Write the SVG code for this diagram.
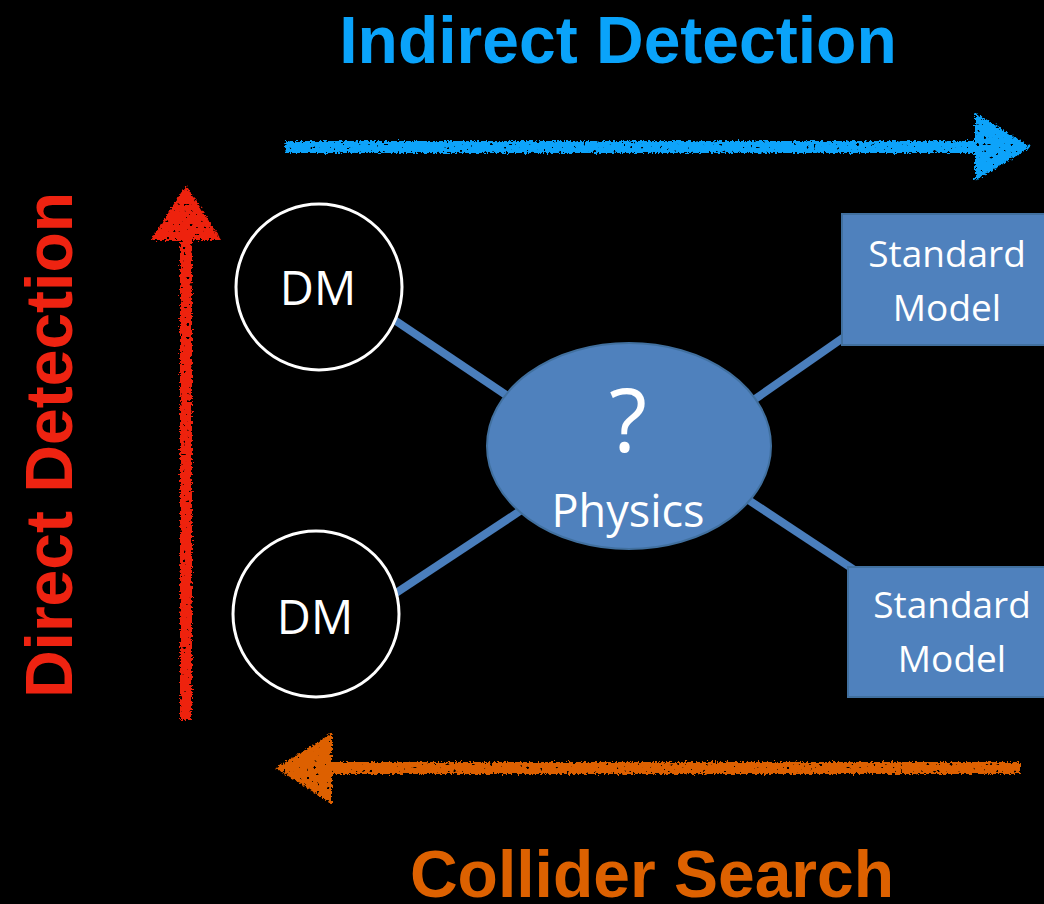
<svg xmlns="http://www.w3.org/2000/svg" width="1044" height="904" viewBox="0 0 1044 904">
  <defs>
    <!-- rough chalk look for the hand-drawn arrows -->
    <filter id="chalk" filterUnits="userSpaceOnUse" x="0" y="0" width="1044" height="904">
      <feTurbulence type="fractalNoise" baseFrequency="0.45" numOctaves="2" seed="7" result="noise"/>
      <feDisplacementMap in="SourceGraphic" in2="noise" scale="6" xChannelSelector="R" yChannelSelector="G" result="rough"/>
      <feTurbulence type="fractalNoise" baseFrequency="0.3" numOctaves="1" seed="11" result="speck"/>
      <feColorMatrix in="speck" type="matrix" values="0 0 0 0 0  0 0 0 0 0  0 0 0 0 0  24 0 0 0 -16.6" result="holes"/>
      <feComposite in="rough" in2="holes" operator="out"/>
    </filter>
    <style>
      .title { font-family: "Liberation Sans", Arial, sans-serif; font-weight: bold; font-size: 66px; text-anchor: middle; }
      .label { font-family: "Open Sans", "Noto Sans", sans-serif; fill: #ffffff; text-anchor: middle; }
      .dm { fill: #000000; stroke: #ffffff; stroke-width: 3; }
      .blue { fill: #4f81bd; stroke: #41709f; stroke-width: 2; }
      .link { stroke: #4a7ebc; stroke-width: 8; fill: none; }
    </style>
  </defs>

  <rect x="0" y="0" width="1044" height="904" fill="#000000"/>

  <!-- headings -->
  <text class="title" x="618" y="63" fill="#0aa3fa">Indirect Detection</text>
  <text class="title" x="652" y="897" fill="#dd6100">Collider Search</text>
  <text class="title" transform="translate(72,445) rotate(-90)" x="0" y="0" fill="#ee2311">Direct Detection</text>

  <!-- chalk arrows -->
  <g id="arrows" filter="url(#chalk)">
    <g id="arrow-indirect" fill="#0aa3fa">
      <rect x="285" y="141" width="695" height="12"/>
      <polygon points="975,113 1031,147 975,181"/>
    </g>
    <g id="arrow-direct" fill="#ee2311">
      <rect x="180" y="235" width="12" height="485"/>
      <polygon points="151,240 186,185 221,240"/>
    </g>
    <g id="arrow-collider" fill="#dd6100">
      <rect x="326" y="762" width="694" height="12"/>
      <polygon points="332,733 276,768 332,804"/>
    </g>
  </g>

  <!-- connectors -->
  <g id="connectors">
    <line class="link" x1="390" y1="317" x2="515" y2="401"/>
    <line class="link" x1="396" y1="593" x2="520" y2="511"/>
    <line class="link" x1="745" y1="406" x2="850" y2="333"/>
    <line class="link" x1="747" y1="499" x2="862" y2="575"/>
  </g>

  <!-- nodes -->
  <g id="dm-top">
    <circle class="dm" cx="319" cy="287" r="83"/>
    <text class="label" x="318" y="305" font-size="47">DM</text>
  </g>
  <g id="dm-bottom">
    <circle class="dm" cx="316" cy="614" r="83"/>
    <text class="label" x="315" y="634" font-size="47">DM</text>
  </g>
  <g id="physics">
    <ellipse class="blue" cx="629" cy="446" rx="142" ry="103"/>
    <text class="label" x="628" y="452" font-size="88">?</text>
    <text class="label" x="628" y="527" font-size="45">Physics</text>
  </g>
  <g id="sm-top">
    <rect class="blue" x="842" y="214" width="220" height="131"/>
    <text class="label" x="947" y="267" font-size="37">Standard</text>
    <text class="label" x="947" y="321" font-size="37">Model</text>
  </g>
  <g id="sm-bottom">
    <rect class="blue" x="848" y="567" width="220" height="130"/>
    <text class="label" x="952" y="618" font-size="37">Standard</text>
    <text class="label" x="952" y="672" font-size="37">Model</text>
  </g>
</svg>
